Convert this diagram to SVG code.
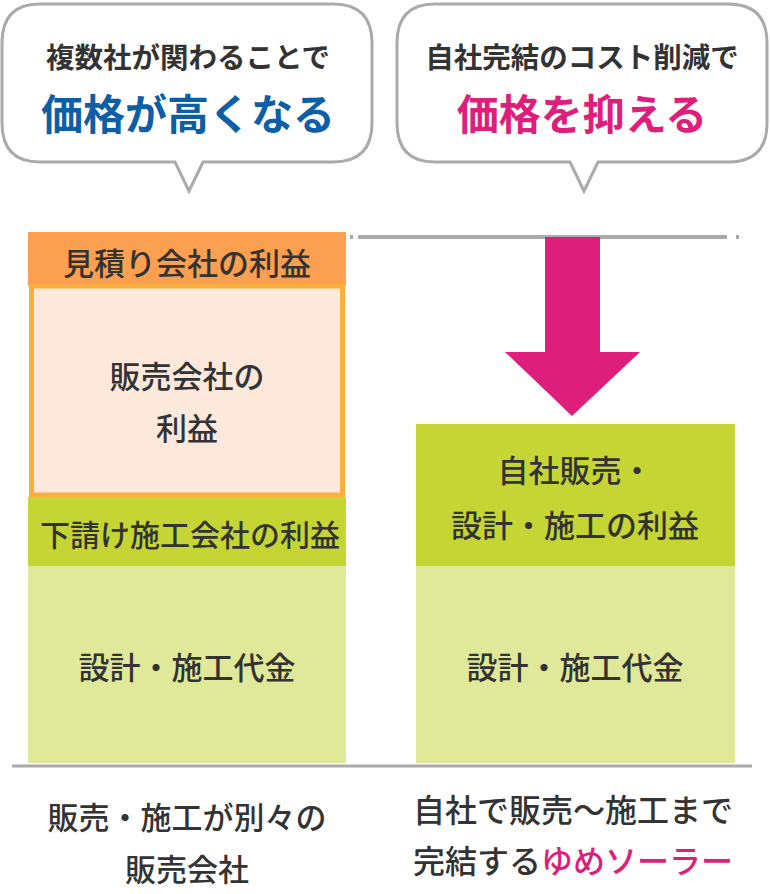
<svg xmlns="http://www.w3.org/2000/svg" width="770" height="894" viewBox="0 0 770 894">
<style>
text{font-family:"Noto Sans CJK JP","Noto Sans",sans-serif;fill:#333;text-anchor:middle;font-weight:500}
.b{fill:#fff;stroke:#aaa;stroke-width:3}
.t{font-size:28.5px;font-weight:bold}
.big{font-size:42px;font-weight:bold}
.l{font-size:31px}
</style>
<g id="bubble-left">
<path class="b" d="M40 4H333Q372 4 372 43V123Q372 162 333 162H203L189 191L175 162H40Q2 162 2 123V43Q2 4 40 4Z"/>
<text class="t" x="188" y="68">複数社が関わることで</text>
<text class="big" x="188" y="130" style="fill:#0d5fa5">価格が高くなる</text>
</g>
<g id="bubble-right">
<path class="b" d="M435 4H728Q767 4 767 43V123Q767 162 728 162H598L584 191L570 162H435Q397 162 397 123V43Q397 4 435 4Z"/>
<text class="t" x="582" y="68">自社完結のコスト削減で</text>
<text class="big" x="582" y="130" style="fill:#dd1f7b">価格を抑える</text>
</g>
<g id="connectors">
<line x1="358" y1="237" x2="727" y2="237" stroke="#aaa" stroke-width="4"/>
<line x1="350" y1="237" x2="353" y2="237" stroke="#aaa" stroke-width="4"/>
<line x1="736" y1="237" x2="739" y2="237" stroke="#aaa" stroke-width="4"/>
<line x1="12" y1="766" x2="752" y2="766" stroke="#aaa" stroke-width="3"/>
<path d="M545 237H600V352H640L572 416L505 352H545Z" fill="#dd1f7b"/>
</g>
<g id="left-column">
<rect x="28" y="232" width="318" height="54" fill="#fb9f50"/>
<text class="l" x="187" y="275">見積り会社の利益</text>
<rect x="31.5" y="286" width="311" height="209" fill="#fce9dc" stroke="#fbae3c" stroke-width="5"/>
<text class="l" x="187" y="388">販売会社の</text>
<text class="l" x="187" y="440">利益</text>
<rect x="28" y="497" width="318" height="69" fill="#c5d634"/>
<text class="l" x="190" y="546" style="font-size:30px">下請け施工会社の利益</text>
<rect x="28" y="566" width="318" height="197" fill="#e0e89a"/>
<text class="l" x="187" y="679">設計・施工代金</text>
<text class="l" x="187" y="829">販売・施工が別々の</text>
<text class="l" x="187" y="881">販売会社</text>
</g>
<g id="right-column">
<rect x="416" y="424" width="319" height="142" fill="#c5d634"/>
<text class="l" x="575" y="482">自社販売・</text>
<text class="l" x="575" y="537">設計・施工の利益</text>
<rect x="416" y="566" width="319" height="197" fill="#e0e89a"/>
<text class="l" x="575" y="679">設計・施工代金</text>
<text class="l" x="573" y="822" style="font-size:32px">自社で販売〜施工まで</text>
<text class="l" x="573" y="873" style="font-size:32px">完結する<tspan style="fill:#dd1f7b">ゆめソーラー</tspan></text>
</g>
</svg>
